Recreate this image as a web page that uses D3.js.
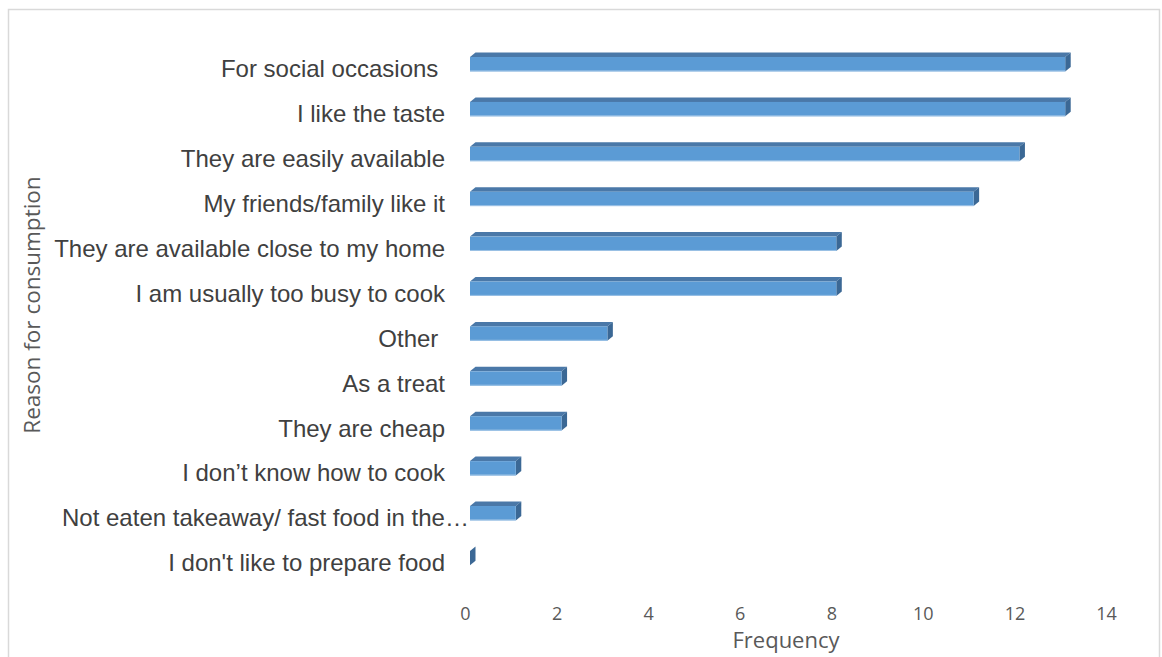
<!DOCTYPE html>
<html>
<head>
<meta charset="utf-8">
<script src="https://cdn.jsdelivr.net/npm/d3@7"></script>
<style>
  html, body { margin: 0; padding: 0; background: #fff; }
  svg { display: block; }
</style>
</head>
<body>
<svg id="chart" width="1162" height="657"></svg>
<script>
// Reasons, top to bottom, with their frequencies
const categories = [
  "For social occasions ",
  "I like the taste",
  "They are easily available",
  "My friends/family like it",
  "They are available close to my home",
  "I am usually too busy to cook",
  "Other ",
  "As a treat",
  "They are cheap",
  "I don\u2019t know how to cook",
  "Not eaten takeaway/ fast food in the\u2026",
  "I don't like to prepare food"
];
const frequencies = [13, 13, 12, 11, 8, 8, 3, 2, 2, 1, 1, 0];
const xTicks = [0, 2, 4, 6, 8, 10, 12, 14];

const svg = d3.select("#chart");

// chart frame
svg.append("rect")
  .attr("x", 8.5).attr("y", 9.5)
  .attr("width", 1151).attr("height", 660)
  .attr("fill", "#fff")
  .attr("stroke", "#d9d9d9")
  .attr("stroke-width", 1.5);

const x = d3.scaleLinear().domain([0, 14]).range([465, 1106]);
const y = d3.scaleBand().domain(categories).range([39.5, 578.3]).paddingInner(0.58).paddingOuter(0.29);

// 3D depth of the bars
const dx = 5.5, dy = -4.5;
const shiftX = 5;   // front face offset from the floor

const bars = svg.append("g");
categories.forEach((c, i) => {
  const v = frequencies[i];
  const x0 = x(0) + shiftX, x1 = x(v) + shiftX;
  const y0 = y(c) + 4.5, h = y.bandwidth() - 4.5;
  const g = bars.append("g");
  // top face
  g.append("path")
    .attr("d", `M${x0},${y0} L${x0 + dx},${y0 + dy} L${x1 + dx},${y0 + dy} L${x1},${y0} Z`)
    .attr("fill", "#4a78a8");
  // side face
  g.append("path")
    .attr("d", `M${x1},${y0} L${x1 + dx},${y0 + dy} L${x1 + dx},${y0 + h + dy} L${x1},${y0 + h} Z`)
    .attr("fill", "#3b6895");
  // front face
  if (v > 0) {
    g.append("rect")
      .attr("x", x0).attr("y", y0)
      .attr("width", x1 - x0).attr("height", h)
      .attr("fill", "#5b9bd5");
    g.append("line")
      .attr("x1", x0).attr("x2", x1)
      .attr("y1", y0 + h - 0.5).attr("y2", y0 + h - 0.5)
      .attr("stroke", "#9cc2e5").attr("stroke-width", 1);
  }
});

// category labels: right-aligned; a truncated label starts at the left edge of the label area
const labelRight = 445, truncatedLeft = 62;
svg.append("g").selectAll("text")
  .data(categories)
  .join("text")
  .attr("x", d => d.endsWith("\u2026") ? truncatedLeft : labelRight)
  .attr("y", d => y(d) + y.bandwidth() / 2 + 7)
  .attr("dy", "0.35em")
  .attr("text-anchor", d => d.endsWith("\u2026") ? "start" : "end")
  .style("white-space", "pre")
  .attr("font-family", "Liberation Sans, Arial, sans-serif")
  .attr("font-size", 24)
  .attr("fill", "#404040")
  .text(d => d);

// x axis tick labels
const xAxis = d3.axisBottom(x).tickValues(xTicks).tickSize(0).tickPadding(0);
const ax = svg.append("g").attr("transform", "translate(0,607)").call(xAxis);
ax.select(".domain").remove();
ax.selectAll("text")
  .attr("font-family", "Open Sans, sans-serif")
  .attr("font-size", 18)
  .attr("fill", "#595959");

// axis titles
svg.append("text")
  .attr("x", 786).attr("y", 648)
  .attr("text-anchor", "middle")
  .attr("font-family", "Open Sans, sans-serif")
  .attr("font-size", 22)
  .attr("fill", "#595959")
  .text("Frequency");

svg.append("text")
  .attr("transform", "translate(40,305) rotate(-90)")
  .attr("text-anchor", "middle")
  .attr("font-family", "Open Sans, sans-serif")
  .attr("font-size", 22.5)
  .attr("fill", "#595959")
  .text("Reason for consumption");
</script>
</body>
</html>
